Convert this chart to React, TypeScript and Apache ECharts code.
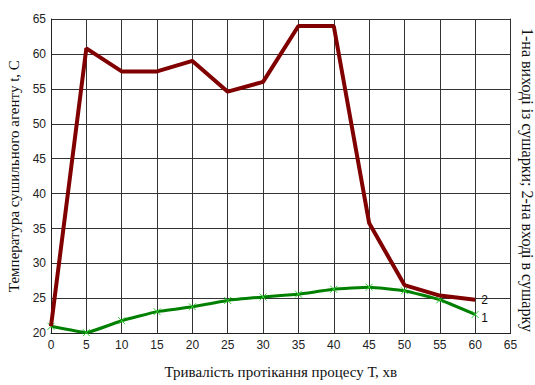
import React, { useEffect, useRef } from "react";
import * as echarts from "echarts";

const minutes = [0, 5, 10, 15, 20, 25, 30, 35, 40, 45, 50, 55, 60];
const inletTemp = [21, 60.8, 57.5, 57.5, 59, 54.6, 56, 64, 64, 35.8, 26.9, 25.4, 24.8];
const outletTemp = [21, 20.1, 21.8, 23.1, 23.8, 24.7, 25.2, 25.6, 26.3, 26.6, 26.1, 24.8, 22.7];

const xName = "Тривалість протікання процесу Т, хв";
const yName = "Температура сушильного агенту t, C";
const rightName = "1-на виході із сушарки; 2-на вході в сушарку";

export default function App() {
  const ref = useRef<HTMLDivElement>(null);
  useEffect(() => {
    if (!ref.current) return;
    const chart = echarts.init(ref.current, null, { renderer: "svg" });
    const tickFont = { fontFamily: "Liberation Sans", fontSize: 12, color: "#222" };
    const nameFont = { fontFamily: "Liberation Serif", fontSize: 15, color: "#111" };
    chart.setOption({
      animation: false,
      backgroundColor: "#fff",
      grid: {
        left: 51,
        right: 24.5,
        top: 19,
        bottom: 51.7,
        containLabel: false,
        outerBoundsMode: "none",
      },
      graphic: [
        {
          type: "text",
          x: 527,
          y: 180,
          rotation: -Math.PI / 2,
          style: {
            text: rightName,
            font: "16px 'Liberation Serif'",
            fill: "#111",
            align: "center",
            verticalAlign: "middle",
          },
        },
      ],
      xAxis: {
        type: "value",
        min: 0,
        max: 65,
        interval: 5,
        name: xName,
        nameLocation: "middle",
        nameGap: 31,
        nameTextStyle: nameFont,
        axisLine: { show: true, lineStyle: { color: "#222", width: 1 } },
        axisTick: { show: false },
        axisLabel: { ...tickFont, margin: 6 },
        splitLine: { show: true, lineStyle: { color: "#333", width: 1 } },
      },
      yAxis: [
        {
          type: "value",
          min: 20,
          max: 65,
          interval: 5,
          name: yName,
          nameLocation: "middle",
          nameGap: 30,
          nameTextStyle: nameFont,
          axisLine: { show: true, lineStyle: { color: "#222", width: 1 } },
          axisTick: { show: false },
          axisLabel: { ...tickFont, margin: 5 },
          splitLine: { show: true, lineStyle: { color: "#333", width: 1 } },
        },
        {
          type: "value",
          min: 20,
          max: 65,
          interval: 5,
          position: "right",
          axisLine: { show: true, lineStyle: { color: "#333", width: 1 } },
          axisTick: { show: false },
          axisLabel: { show: false },
          splitLine: { show: false },
        },
      ],
      series: [
        {
          name: "2",
          type: "line",
          data: minutes.map((m, i) => [m, inletTemp[i]]),
          showSymbol: false,
          symbol: "none",
          lineStyle: { color: "#800000", width: 4 },
          itemStyle: { color: "#800000" },
          endLabel: {
            show: true,
            formatter: "2",
            distance: 6,
            fontFamily: "Liberation Sans",
            fontSize: 12,
            color: "#111",
          },
          z: 3,
        },
        {
          name: "1",
          type: "line",
          data: minutes.map((m, i) => [m, outletTemp[i]]),
          smooth: 0.1,
          symbol: "path://M0,0L10,10M10,0L0,10",
          symbolSize: 7,
          showSymbol: true,
          lineStyle: { color: "#008000", width: 3 },
          itemStyle: { color: "none", borderColor: "#33cc33", borderWidth: 1 },
          endLabel: {
            show: true,
            formatter: "1",
            distance: 6,
            offset: [0, 4],
            fontFamily: "Liberation Sans",
            fontSize: 12,
            color: "#111",
          },
          z: 2,
        },
      ],
    });
    return () => chart.dispose();
  }, []);
  return (
    <div
      ref={ref}
      style={{ position: "fixed", left: 0, top: 0, width: 535, height: 385 }}
    />
  );
}
